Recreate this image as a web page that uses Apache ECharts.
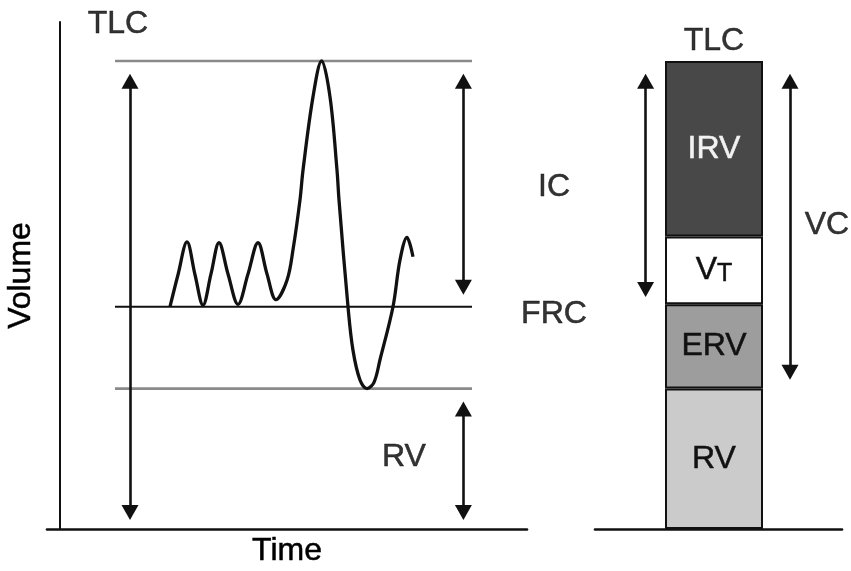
<!DOCTYPE html>
<html><head><meta charset="utf-8">
<script src="https://cdn.jsdelivr.net/npm/echarts@6/dist/echarts.min.js"></script>
<style>html,body{margin:0;padding:0;background:#fff}#c{width:851px;height:571px}</style>
</head><body><div id="c"></div>
<script>
// ---- data (volume in litres, time in arbitrary seconds) ----
const TLC = 6.0;
const FRC = 2.85;
const RV_LEVEL = 1.8;
const levelSpan = [2.75, 20.6];

const traceTime   = [5.5, 5.9, 6.35, 6.75, 7.15, 7.55, 7.95, 8.4, 8.9, 9.4, 9.9, 10.35, 10.8, 11.35, 11.65, 12.0, 12.15, 12.65, 13.08, 13.5, 13.85, 13.95, 14.4, 14.65, 15.0, 15.35, 15.7, 16.0, 16.65, 17.0, 17.35, 17.65];
const traceVolume = [2.85, 3.26, 3.68, 3.26, 2.87, 3.27, 3.67, 3.27, 2.88, 3.27, 3.67, 3.27, 2.94, 3.19, 3.58, 4.22, 4.6, 5.54, 6.0, 5.54, 4.6, 4.22, 2.85, 2.29, 1.91, 1.8, 1.88, 2.17, 2.85, 3.45, 3.74, 3.49];

const barNames  = ['RV', 'ERV', 'VT', 'IRV'];
const barValues = [1.8, 1.08, 0.87, 2.25];
const barX = 5.95;

// arrows: [x, fromVolume, toVolume]
const leftArrows  = [[3.5, 5.74, 0.21], [20.17, 5.74, 3.10], [20.17, 1.54, 0.21]];
const rightArrows = [[2.53, 5.74, 3.07], [9.75, 5.74, 2.01]];

// text labels: [text, x, volume]
const leftLabels  = [['TLC', 2.9, 6.47], ['RV', 17.2, 0.92]];
const rightLabels = [['TLC', 5.95, 6.25], ['IC', -2.05, 4.38], ['FRC', -2.05, 2.76], ['VC', 11.6, 3.89]];

// ---- styles ----
const FONT = "'Liberation Sans', Arial, Helvetica, sans-serif";
const INK = '#000';
const barColors = ['#cbcbcb', '#9d9d9d', '#ffffff', '#484848'];
const barTextColors = ['#111', '#111', '#111', '#f2f2f2'];

const chart = echarts.init(document.getElementById('c'), null, {renderer: 'canvas'});

function txt(size, color) {
  return {fontFamily: FONT, fontSize: size, color: color || INK,
          textBorderColor: color || INK, textBorderWidth: 0.5};
}
function arrowSeries(list, idx) {
  return {
    type: 'line', xAxisIndex: idx, yAxisIndex: idx, data: [], silent: true,
    markLine: {
      silent: true, animation: false,
      symbol: ['triangle', 'triangle'], symbolSize: [17, 15],
      label: {show: false},
      lineStyle: {color: '#111', width: 2.6, type: 'solid'},
      emphasis: {disabled: true},
      data: list.map(a => [{coord: [a[0], a[1]]}, {coord: [a[0], a[2]]}])
    }
  };
}
function labelSeries(list, idx) {
  return {
    type: 'scatter', xAxisIndex: idx, yAxisIndex: idx, clip: false, silent: true,
    symbolSize: 1, itemStyle: {color: 'rgba(0,0,0,0)'},
    label: Object.assign({show: true, position: 'inside', formatter: p => p.data.name}, txt(32)),
    data: list.map(l => ({name: l[0], value: [l[1], l[2]]}))
  };
}
function levelSeries(v, color, width) {
  return {
    type: 'line', xAxisIndex: 0, yAxisIndex: 0, symbol: 'none', silent: true,
    lineStyle: {color: color, width: width},
    data: [[levelSpan[0], v], [levelSpan[1], v]]
  };
}

const hiddenAxisParts = {axisTick: {show: false}, axisLabel: {show: false}, splitLine: {show: false}};

const option = {
  animation: false,
  backgroundColor: '#fff',
  grid: [
    {left: 47, width: 480, top: 22, bottom: 42, containLabel: false, outerBoundsMode: 'none'},
    {left: 595, right: 9, top: 22, bottom: 42, containLabel: false, outerBoundsMode: 'none'}
  ],
  xAxis: [
    Object.assign({type: 'value', gridIndex: 0, min: -0.65, max: 23.35,
      name: 'Time', nameLocation: 'middle', nameGap: 6,
      nameTextStyle: txt(32),
      axisLine: {show: true, onZero: true, lineStyle: {color: '#111', width: 2.6}}}, hiddenAxisParts),
    Object.assign({type: 'value', gridIndex: 1, min: 0, max: 12.35,
      axisLine: {show: true, lineStyle: {color: '#111', width: 2.6}}}, hiddenAxisParts)
  ],
  yAxis: [
    Object.assign({type: 'value', gridIndex: 0, min: 0, max: 6.5,
      name: 'Volume', nameLocation: 'middle', nameGap: 10, nameRotate: 90,
      nameTextStyle: txt(32),
      axisLine: {show: true, onZero: true, lineStyle: {color: '#111', width: 2}}}, hiddenAxisParts),
    Object.assign({type: 'value', gridIndex: 1, min: 0, max: 6.5,
      axisLine: {show: false}}, hiddenAxisParts)
  ],
  series: [
    levelSeries(TLC, '#8a8a8a', 2.6),
    levelSeries(FRC, '#111', 2),
    levelSeries(RV_LEVEL, '#8a8a8a', 2.6),
    {
      type: 'line', xAxisIndex: 0, yAxisIndex: 0, symbol: 'none', silent: true,
      smooth: 0.35,
      lineStyle: {color: '#111', width: 3.3},
      data: traceTime.map((t, i) => [t, traceVolume[i]])
    },
    arrowSeries(leftArrows, 0),
    arrowSeries(rightArrows, 1),
    labelSeries(leftLabels, 0),
    labelSeries(rightLabels, 1)
  ].concat(barNames.map((n, i) => ({
    type: 'bar', name: n, xAxisIndex: 1, yAxisIndex: 1, stack: 'lung', silent: true,
    barWidth: 98,
    // volume first so that the stack is applied to the volume dimension
    encode: {x: 1, y: 0},
    itemStyle: {color: barColors[i], borderColor: '#111', borderWidth: 2},
    label: Object.assign({
      show: true, position: 'inside',
      formatter: n === 'VT' ? '{v|V}{t|T}' : n,
      rich: {
        v: Object.assign(txt(32, '#111'), {lineHeight: 32, verticalAlign: 'bottom'}),
        t: Object.assign(txt(25, '#111'), {lineHeight: 25, verticalAlign: 'bottom'})
      }
    }, txt(32, barTextColors[i])),
    data: [[barValues[i], barX]]
  })))
};
chart.setOption(option);
</script>
</body></html>
